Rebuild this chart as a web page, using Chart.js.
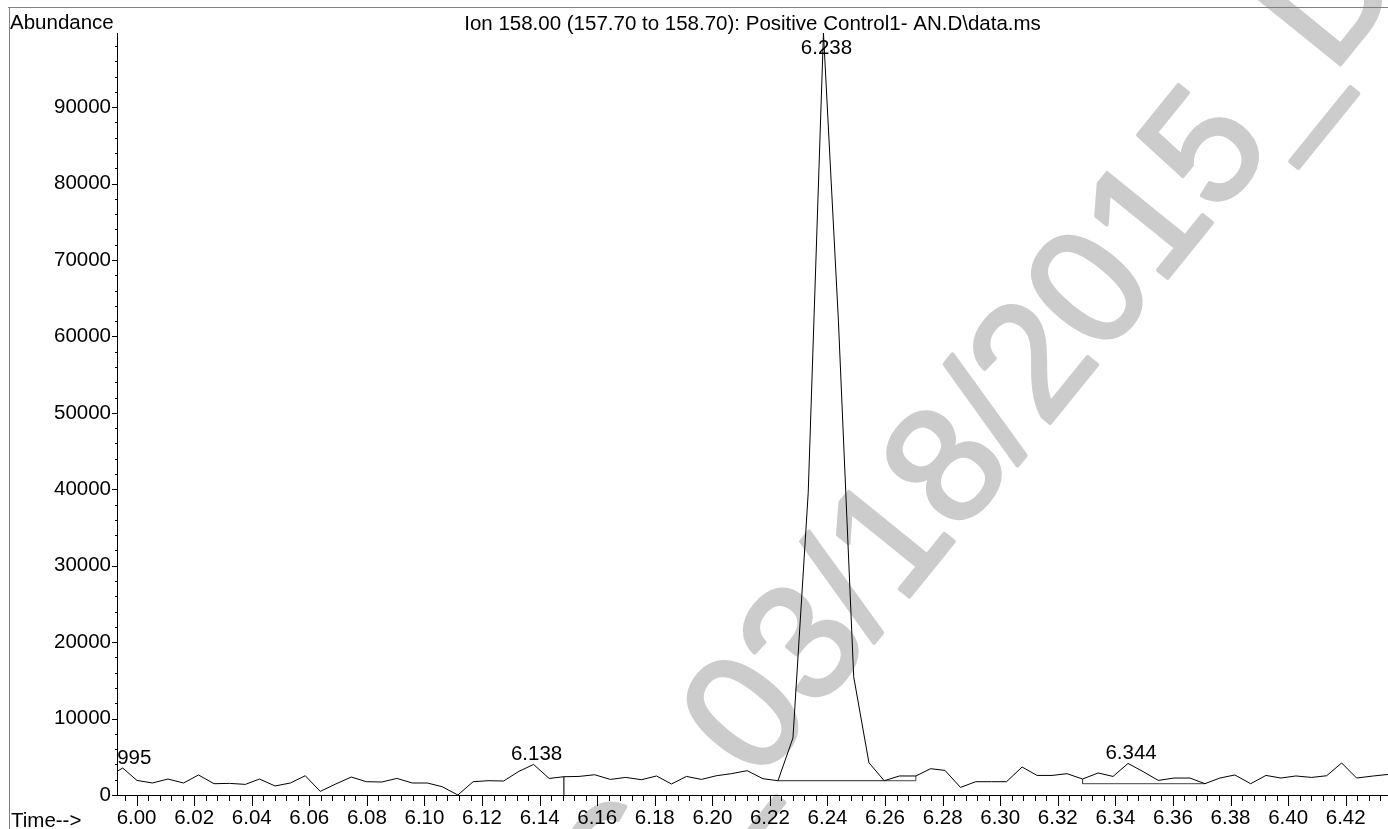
<!DOCTYPE html>
<html>
<head>
<meta charset="utf-8">
<script src="https://cdn.jsdelivr.net/npm/chart.js@4/dist/chart.umd.min.js"></script>
<style>
html, body { margin: 0; padding: 0; background: #fff; }
#wrap { width: 1388px; height: 829px; position: relative; }
</style>
</head>
<body>
<div id="wrap"><canvas id="grafico"></canvas></div>
<script>
// retention time (min) and abundance
const times = [
    5.9932, 5.9952, 6.0001, 6.0055, 6.0109, 6.0163, 6.0215, 6.0269, 6.0323, 6.0378,
    6.0427, 6.0481, 6.0534, 6.0586, 6.0638, 6.0690, 6.0746, 6.0798, 6.0852, 6.0904,
    6.0958, 6.1010, 6.1061, 6.1116, 6.1169, 6.1221, 6.1275, 6.1328, 6.1379, 6.1433,
    6.1484, 6.1537, 6.1591, 6.1646, 6.1699, 6.1754, 6.1806, 6.1858, 6.1910, 6.1962,
    6.2014, 6.2066, 6.2121, 6.2176, 6.2228, 6.2280, 6.2333, 6.2386, 6.2438, 6.2491,
    6.2544, 6.2597, 6.2650, 6.2707, 6.2758, 6.2808, 6.2862, 6.2915, 6.2970, 6.3022,
    6.3076, 6.3128, 6.3180, 6.3232, 6.3286, 6.3340, 6.3392, 6.3444, 6.3497, 6.3549,
    6.3604, 6.3659, 6.3711, 6.3763, 6.3815, 6.3870, 6.3923, 6.3975, 6.4027, 6.4082,
    6.4134, 6.4186, 6.4238, 6.4296, 6.4347
]
const abundance = [
    3090, 3530, 1910, 1570, 2090, 1570, 2620, 1480, 1520, 1390,
    2090, 1180, 1570, 2520, 470, 1410, 2350, 1740, 1700, 2170,
    1570, 1570, 1090, 0, 1740, 1870, 1830, 3090, 4000, 2170,
    2390, 2430, 2650, 2040, 2300, 2000, 2490, 1440, 2430, 2040,
    2520, 2790, 3180, 2130, 1870, 7460, 39540, 99700, 62000, 15470,
    4220, 1870, 2490, 2490, 3440, 3220, 995, 1740, 1740, 1740,
    3660, 2560, 2560, 2790, 2090, 2880, 2430, 4130, 3050, 1910,
    2220, 2220, 1480, 2220, 2620, 1480, 2560, 2220, 2490, 2300,
    2520, 4190, 2220, 2490, 2690
]

// labelled peaks
const peakTimes = [5.9952, 6.1379, 6.2386, 6.3444]
const peakValues = [3530, 4000, 99700, 4130]
const peakLabels = ['5.995', '6.138', '6.238', '6.344']

// integration baselines / drop lines
const dropTimes = [6.1484, 6.1484]
const dropValues = [2390, 0]
const mainBaseTimes = [6.2228, 6.2597]
const mainBaseValues = [1870, 1870]
const smallBaseTimes = [6.2597, 6.2707, 6.2707]
const smallBaseValues = [1870, 1870, 2490]
const lateBaseTimes = [6.3286, 6.3286, 6.3711]
const lateBaseValues = [2090, 1480, 1480]

// axes
const xRange = [5.9932, 6.4347]
const yRange = [0, 99700]
const xTicks = [6.00, 6.02, 6.04, 6.06, 6.08, 6.10, 6.12, 6.14, 6.16, 6.18, 6.20, 6.22,
    6.24, 6.26, 6.28, 6.30, 6.32, 6.34, 6.36, 6.38, 6.40, 6.42]
const yTicks = [0, 10000, 20000, 30000, 40000, 50000, 60000, 70000, 80000, 90000]

const titleText = 'Ion 158.00 (157.70 to 158.70): Positive Control1- AN.D\\data.ms'
const watermark = 'S_03/18/2015_DI'

const FONT = '"Liberation Sans", Arial, Helvetica, sans-serif'
const FS = 20.5

function pts(xs, ys) {
    return xs.map((t, i) => ({ x: t, y: ys[i] }))
}

const decor = {
    id: 'decor',
    beforeDraw(chart) {
        const c = chart.ctx
        c.save()
        c.fillStyle = '#fff'
        c.fillRect(0, 0, chart.width, chart.height)

        // watermark
        c.translate(758, 783.5)
        c.rotate(-51 * Math.PI / 180)
        c.font = '164px ' + FONT
        c.fillStyle = '#cccccc'
        c.strokeStyle = '#cccccc'
        c.lineWidth = 4
        c.lineJoin = 'round'
        c.textBaseline = 'alphabetic'
        const pre = c.measureText('S_').width
        c.fillText(watermark, -pre, 0)
        c.strokeText(watermark, -pre, 0)
        c.restore()

        // frame
        c.save()
        c.strokeStyle = '#808080'
        c.lineWidth = 1
        c.beginPath()
        c.moveTo(8, 7.5); c.lineTo(chart.width, 7.5)
        c.moveTo(9.5, 7); c.lineTo(9.5, chart.height)
        c.stroke()
        c.restore()
    },
    afterDraw(chart) {
        const c = chart.ctx
        const xs = chart.scales.x, ys = chart.scales.y, area = chart.chartArea
        c.save()
        c.strokeStyle = '#000'
        c.lineWidth = 1
        c.beginPath()
        for (let v = 0; v <= yRange[1]; v += 2000) {
            const py = Math.round(ys.getPixelForValue(v)) + 0.5
            const len = v % 10000 === 0 ? 5 : 2
            c.moveTo(area.left - len, py); c.lineTo(area.left, py)
        }
        for (let k = Math.ceil(xRange[0] * 250); k <= Math.floor(xRange[1] * 250); k++) {
            const px = Math.round(xs.getPixelForValue(k / 250)) + 0.5
            const len = k % 5 === 0 ? 11 : 6
            c.moveTo(px, area.bottom); c.lineTo(px, area.bottom + len)
        }
        c.stroke()

        c.fillStyle = '#000'
        c.font = FS + 'px ' + FONT
        c.textBaseline = 'alphabetic'
        c.textAlign = 'left'
        c.fillText('Abundance', 10, 28.5)
        c.fillText('Time-->', 11, 826.5)
        c.textAlign = 'center'
        c.fillText(titleText, (area.left + area.right) / 2, 29.5)

        // peak labels, clipped to the plot area
        c.beginPath()
        c.rect(area.left, 0, area.right - area.left, area.bottom)
        c.clip()
        peakTimes.forEach((t, i) => {
            const px = xs.getPixelForValue(t) + 3
            const py = Math.max(ys.getPixelForValue(peakValues[i]) - 4, 53.5)
            c.fillText(peakLabels[i], px, py)
        })
        c.restore()
    }
}

const ctx = document.getElementById('grafico')
Chart.defaults.font.family = FONT

new Chart(ctx, {
    type: 'scatter',
    data: {
        datasets: [
            {
                data: pts(times, abundance),
                showLine: true,
                borderColor: '#000',
                borderWidth: 1,
                pointRadius: 0,
                tension: 0
            },
            { data: pts(dropTimes, dropValues), showLine: true, borderColor: '#555', borderWidth: 1, pointRadius: 0 },
            { data: pts(mainBaseTimes, mainBaseValues), showLine: true, borderColor: '#222', borderWidth: 1, pointRadius: 0 },
            { data: pts(smallBaseTimes, smallBaseValues), showLine: true, borderColor: '#444', borderWidth: 1, pointRadius: 0 },
            { data: pts(lateBaseTimes, lateBaseValues), showLine: true, borderColor: '#444', borderWidth: 1, pointRadius: 0 }
        ]
    },
    options: {
        responsive: true,
        maintainAspectRatio: false,
        animation: false,
        layout: { padding: { top: 33, left: 0, right: 0, bottom: 0 } },
        plugins: {
            legend: { display: false },
            title: { display: false },
            tooltip: { enabled: false }
        },
        scales: {
            x: {
                type: 'linear',
                min: xRange[0],
                max: xRange[1],
                afterBuildTicks: (s) => { s.ticks = xTicks.map(v => ({ value: v })) },
                afterFit: (s) => { s.height = 34 },
                grid: { display: false, drawTicks: false },
                border: { display: true, color: '#000', width: 1 },
                ticks: {
                    padding: 11,
                    maxRotation: 0,
                    autoSkip: false,
                    color: '#000',
                    font: { size: FS },
                    callback: (v) => Number(v).toFixed(2)
                }
            },
            y: {
                min: yRange[0],
                max: yRange[1],
                afterBuildTicks: (s) => { s.ticks = yTicks.map(v => ({ value: v })) },
                afterFit: (s) => { s.width = 117 },
                grid: { display: false, drawTicks: false },
                border: { display: true, color: '#000', width: 1 },
                ticks: {
                    padding: 6,
                    color: '#000',
                    font: { size: FS },
                    callback: (v) => String(v)
                }
            }
        }
    },
    plugins: [decor]
})
</script>
</body>
</html>
